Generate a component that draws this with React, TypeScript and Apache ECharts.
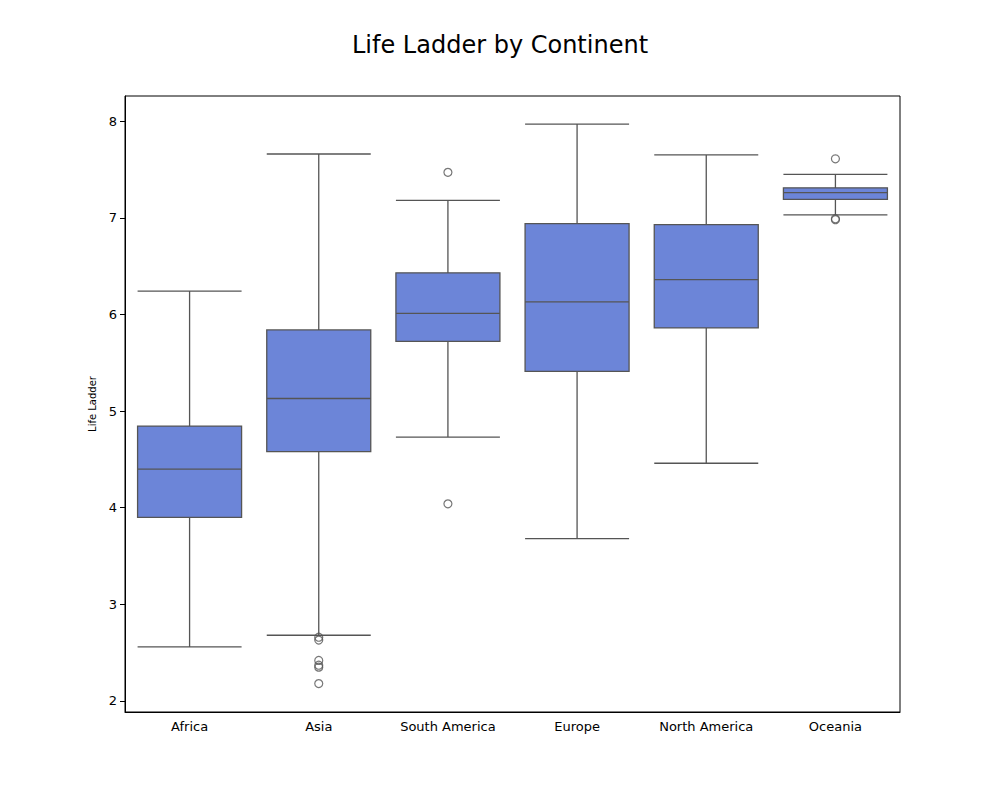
import React, { useEffect, useRef } from 'react';
import * as echarts from 'echarts';

const continents = ['Africa', 'Asia', 'South America', 'Europe', 'North America', 'Oceania'];
// [lower whisker, Q1, median, Q3, upper whisker]
const boxes = [
  [2.56, 3.9, 4.4, 4.845, 6.24],
  [2.68, 4.58, 5.13, 5.84, 7.66],
  [4.73, 5.72, 6.01, 6.43, 7.18],
  [3.68, 5.41, 6.13, 6.94, 7.97],
  [4.46, 5.86, 6.36, 6.93, 7.65],
  [7.03, 7.19, 7.26, 7.31, 7.45],
];
const outliers: [number, number][] = [
  [1, 2.66], [1, 2.63], [1, 2.42], [1, 2.37], [1, 2.35], [1, 2.18],
  [2, 7.47], [2, 4.04],
  [5, 7.61], [5, 6.99], [5, 6.98],
];
const yTicks = [2, 3, 4, 5, 6, 7, 8];

const font = 'DejaVu Sans';

export default function App() {
  const ref = useRef<HTMLDivElement>(null);

  useEffect(() => {
    if (!ref.current) return;
    const chart = echarts.init(ref.current, null, { renderer: 'svg' });
    chart.setOption({
      animation: false,
      title: {
        text: 'Life Ladder by Continent',
        left: 'center',
        top: 28,
        textStyle: { fontFamily: font, fontSize: 24, fontWeight: 'normal', color: '#000' },
      },
      grid: { left: 125, right: 100, top: 96, bottom: 88, show: true, borderColor: '#000', borderWidth: 1 },
      xAxis: {
        type: 'category',
        data: continents,
        axisLine: { lineStyle: { color: '#000' } },
        axisTick: { alignWithLabel: true, lineStyle: { color: '#000' } },
        axisLabel: { fontFamily: font, fontSize: 13, color: '#000', margin: 8 },
      },
      yAxis: {
        type: 'value',
        min: 1.886,
        max: 8.26,
        name: 'Life Ladder',
        nameLocation: 'middle',
        nameGap: 28,
        nameTextStyle: { fontFamily: font, fontSize: 10, color: '#000' },
        splitLine: { show: false },
        axisLine: { show: true, lineStyle: { color: '#000' } },
        axisTick: { show: true, customValues: yTicks, lineStyle: { color: '#000' } },
        axisLabel: { customValues: yTicks, fontFamily: font, fontSize: 13, color: '#000' },
      },
      series: [
        {
          type: 'boxplot',
          data: boxes,
          boxWidth: [104, 104],
          itemStyle: { color: '#6c85d8', borderColor: '#555', borderWidth: 1.3 },
        },
        {
          type: 'scatter',
          data: outliers,
          symbol: 'circle',
          symbolSize: 8,
          itemStyle: { color: 'rgba(0,0,0,0)', borderColor: '#555', borderWidth: 1.2 },
        },
      ],
    });
    return () => chart.dispose();
  }, []);

  return <div ref={ref} style={{ width: 1000, height: 800, margin: -8 }} />;
}
